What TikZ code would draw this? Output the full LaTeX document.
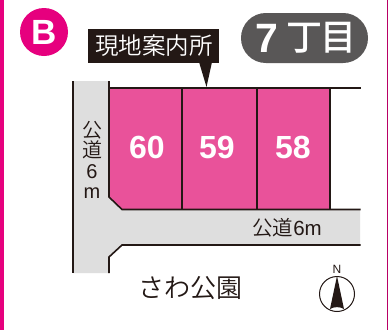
\documentclass[tikz,border=0pt]{standalone}
\usepackage{fontspec}
\setmainfont{Liberation Sans}
\newfontfamily\cjk{Noto Sans CJK JP}
\newfontfamily\cjkm{Noto Sans CJK JP Medium}
\newfontfamily\cjkl{Noto Sans CJK JP DemiLight}
\definecolor{mag}{HTML}{E6007E}
\definecolor{lotpink}{HTML}{E9529A}
\definecolor{roadgray}{HTML}{DEDEDE}
\definecolor{ink}{HTML}{231815}
\definecolor{pillgray}{HTML}{595757}
\tikzset{
  roadline/.style={draw=ink,line width=1.6pt},
  lotline/.style={draw=ink,line width=2pt},
  lotnum/.style={text=white,font=\fontsize{32}{32}\selectfont\bfseries,inner sep=0pt},
  jp/.style={text=ink,inner sep=0pt},
  blocktext/.style={text=white,inner sep=0pt},
}
\begin{document}
\begin{tikzpicture}[x=1pt,y=-1pt]
\useasboundingbox (0,0) rectangle (388,330);
\fill[white] (0,0) rectangle (388,330);
\fill[mag] (0,0) rectangle (4,330);
\fill[mag!80!black] (386.6,0) rectangle (387.6,330);
% roads
\fill[roadgray] (73,81) -- (109,81) -- (109,197) -- (122,209.5) -- (360,209.5) -- (360,245) -- (122,245) -- (109,257) -- (109,273) -- (73,273) -- cycle;
% lots
\fill[lotpink] (109,88) -- (329.5,88) -- (329.5,209.5) -- (122,209.5) -- (109,197) -- cycle;
\draw[roadline] (73,81) -- (73,273);
\draw[roadline] (109,81) -- (109,197) -- (122,209.5) -- (360.5,209.5);
\draw[roadline] (109,273) -- (109,257) -- (122,245) -- (360.5,245);
\draw[roadline] (109,88) -- (360.5,88);
\draw[lotline] (181.5,88) -- (181.5,209.5);
\draw[lotline] (257,88) -- (257,209.5);
\draw[lotline] (329.5,88) -- (329.5,209.5);
\node[lotnum] (l60) at (147,147.5) {60};
\node[lotnum] (l59) at (217,147.5) {59};
\node[lotnum] (l58) at (293,147.5) {58};
% badge
\node[circle,fill=mag,minimum size=48pt,inner sep=0pt,text=white,font=\fontsize{35}{35}\selectfont\bfseries] (badge) at (44,32) {B};
% site label
\fill[ink] (88,29) rectangle (219,63);
\fill[ink] (199,62) -- (212,62) -- (206.5,87) -- cycle;
\node[text=white,inner sep=0pt,font=\cjkl\fontsize{23.5}{23.5}\selectfont] (site) at (154,46) {現地案内所};
% block label
\fill[pillgray,rounded corners=24.9pt] (241,13) rectangle (368,63);
\node[blocktext,font=\bfseries\fontsize{41}{41}\selectfont] (b7) at (267,38) {7};
\node[blocktext,font=\cjkm\fontsize{36}{36}\selectfont] (bt) at (304.5,38) {丁};
\node[blocktext,font=\cjkm\fontsize{36}{36}\selectfont] (bm) at (338.5,38) {目};
% road labels
\node[jp,align=center,font=\cjkl\fontsize{20}{20.5}\selectfont] (rv) at (92,160) {公\\道\\{\rmfamily 6}\\{\rmfamily m}};
\node[jp,font=\cjkl\fontsize{20.5}{20.5}\selectfont] (rh) at (287,228) {公道{\rmfamily 6m}};
\node[jp,font=\cjkl\fontsize{26}{26}\selectfont] (park) at (190.5,288) {さわ公園};
% north
\node[jp,font=\fontsize{12}{12}\selectfont] (north) at (337,269.5) {N};
\node[circle,draw=ink,line width=1pt,minimum size=35pt,inner sep=0pt] (comp) at (337,294) {};
\fill[ink] (337,276) -- (330,309) .. controls (334,306.5) and (340,306.5) .. (344,309) -- cycle;
\end{tikzpicture}
\end{document}
